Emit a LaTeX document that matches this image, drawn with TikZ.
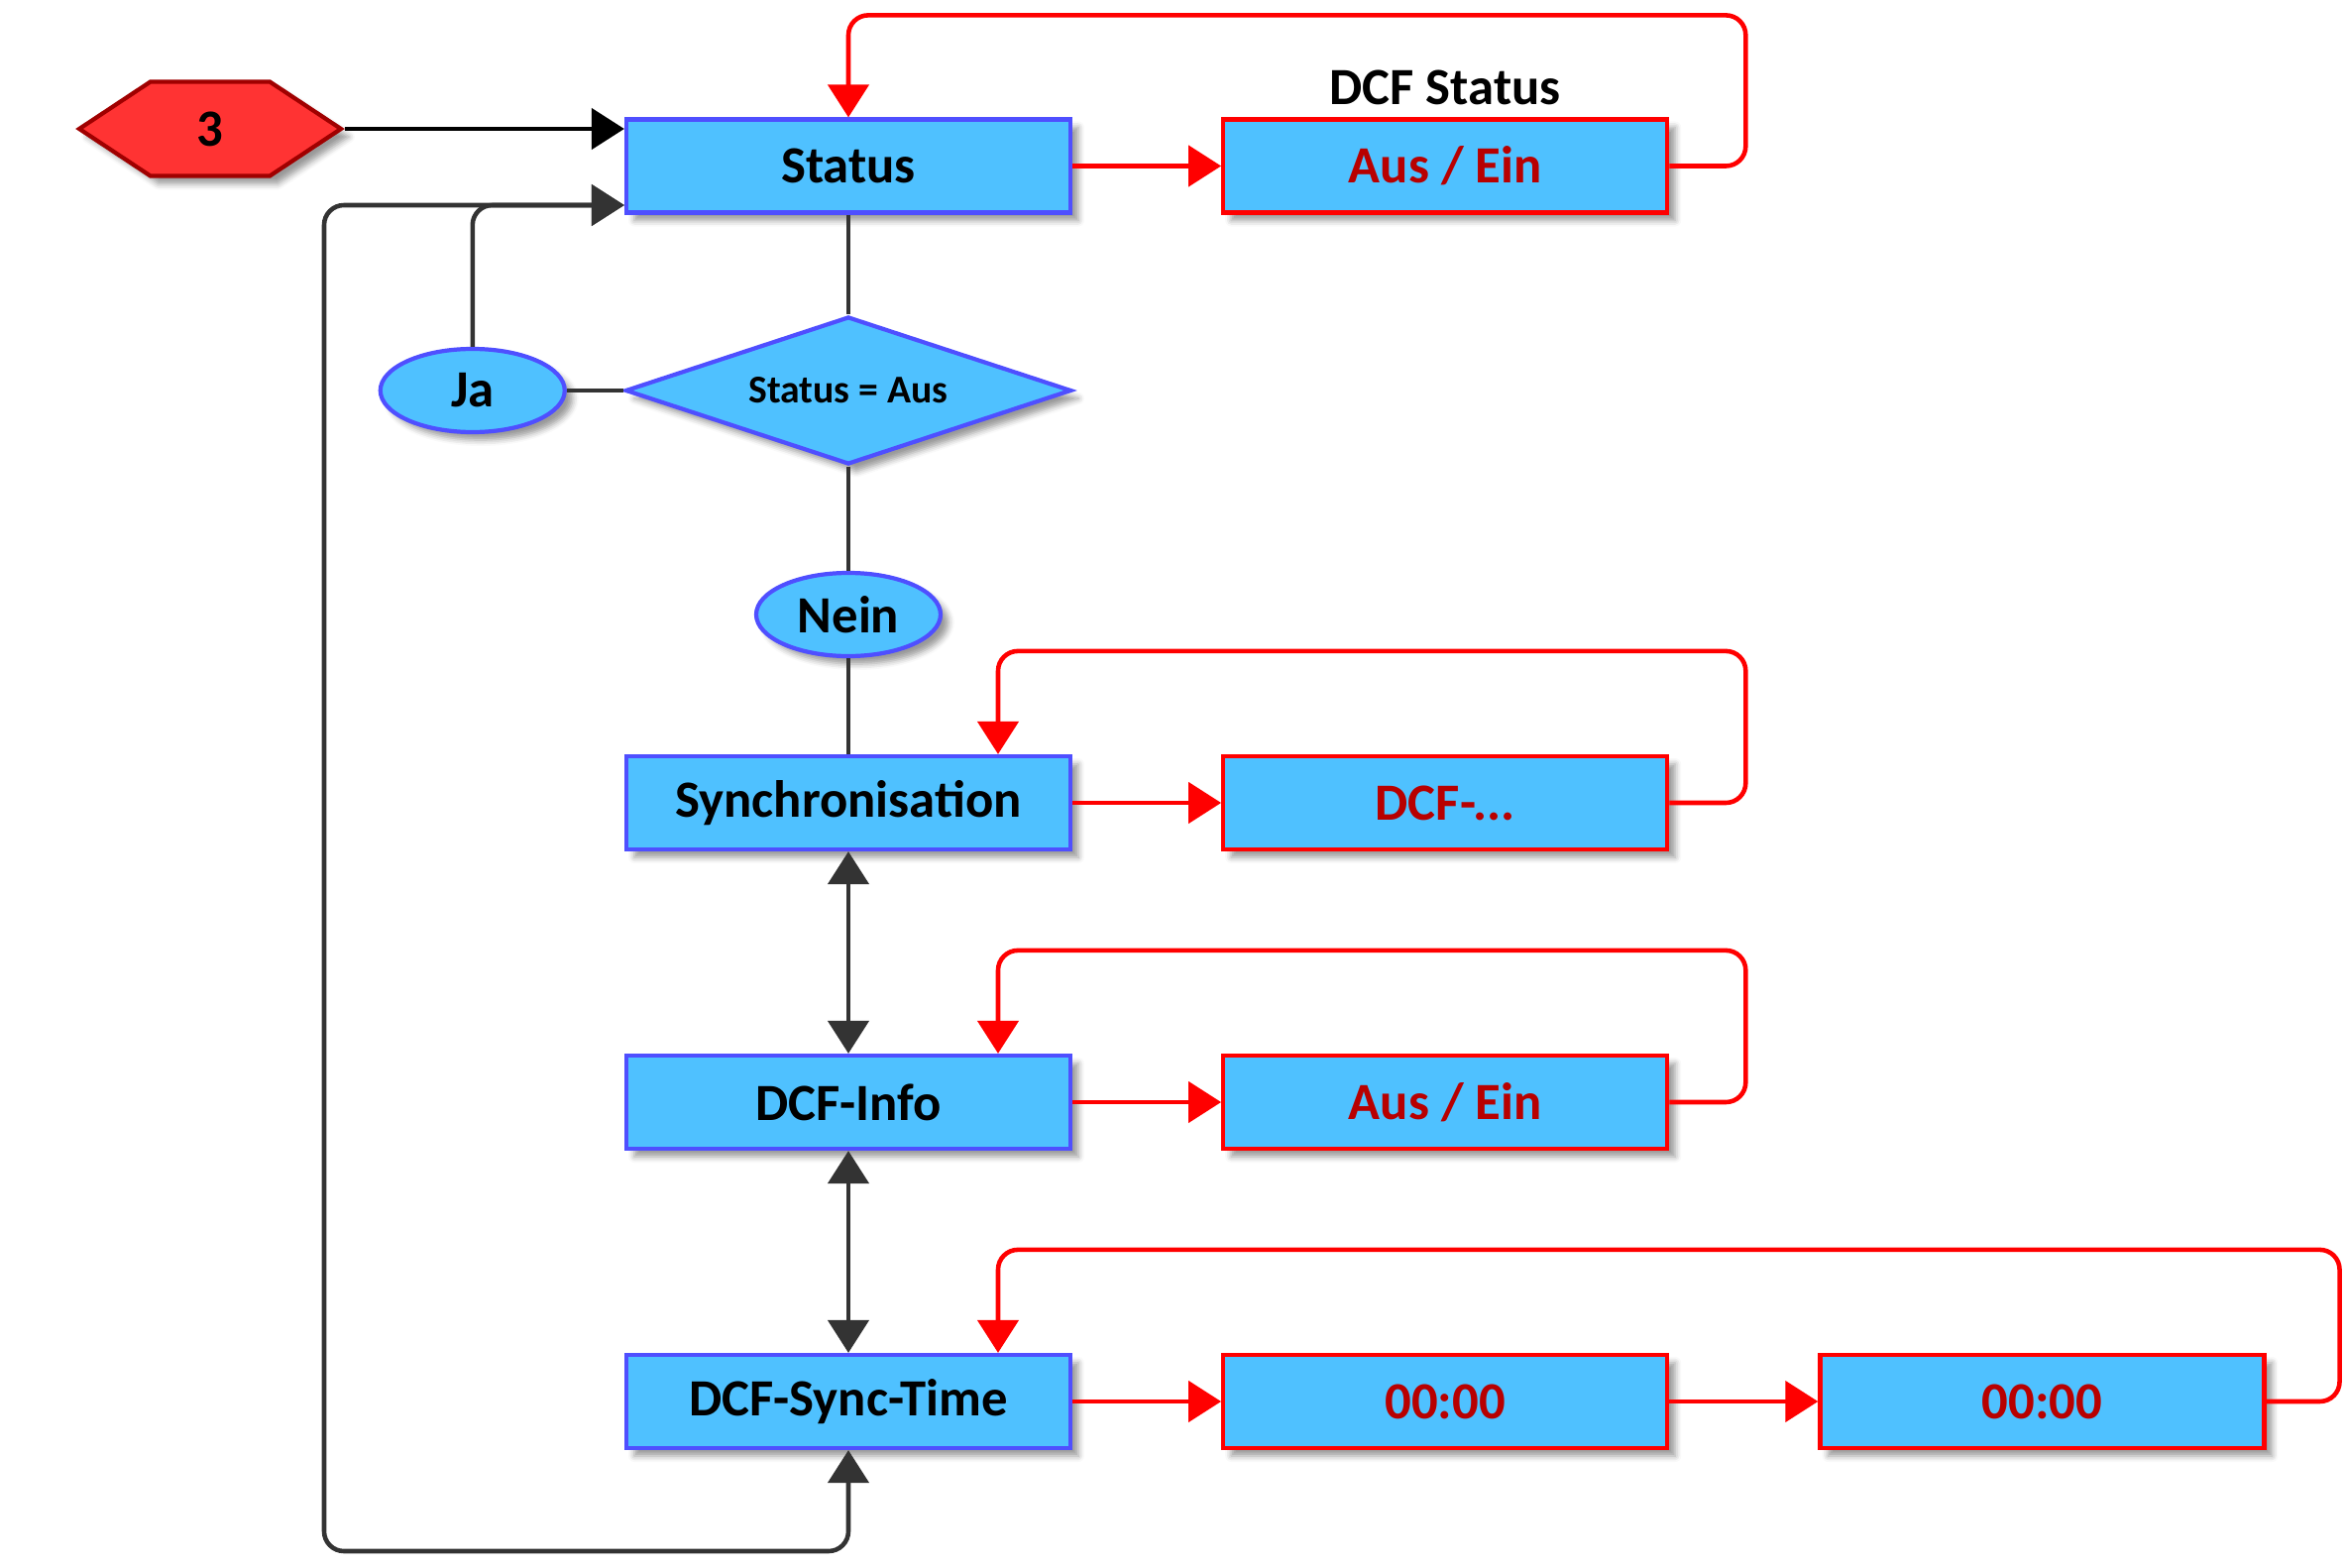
\documentclass[tikz,border=0pt]{standalone}
\usepackage{fontspec}
\setmainfont{Carlito}
\usetikzlibrary{arrows.meta, positioning, calc, shapes.geometric, shapes.symbols, shadows.blur}
\definecolor{DCFBlue}{HTML}{4FC1FF}
\definecolor{DCFEdge}{HTML}{4F4FFF}
\definecolor{DCFRed}{HTML}{FF0000}
\definecolor{DCFText}{HTML}{B80000}
\definecolor{DCFHex}{HTML}{FF3333}
\definecolor{DCFHexEdge}{HTML}{A00000}
\definecolor{DCFLine}{HTML}{333333}

\begin{document}
\begin{tikzpicture}[
    % Schrift und Pfeilspitzen
    font=\fontsize{15}{17}\selectfont\bfseries,
    >={Triangle[length=0.33cm, width=0.41cm]},
    % Stile
    menubox/.style={
        rectangle,
        draw=DCFEdge,
        fill=DCFBlue,
        line width=1.2pt,
        minimum width=4.48cm,
        minimum height=0.94cm,
        inner sep=0pt,
        blur shadow={shadow xshift=0.08cm, shadow yshift=-0.08cm, shadow blur radius=0.06cm}
    },
    valuebox/.style={menubox, draw=DCFRed, text=DCFText},
    answer/.style={
        ellipse,
        draw=DCFEdge,
        fill=DCFBlue,
        line width=1.2pt,
        minimum width=1.86cm,
        minimum height=0.84cm,
        inner sep=0pt,
        blur shadow={shadow xshift=0.08cm, shadow yshift=-0.08cm, shadow blur radius=0.06cm}
    },
    decision/.style={
        diamond,
        aspect=3,
        draw=DCFEdge,
        fill=DCFBlue,
        line width=1.2pt,
        minimum width=4.5cm,
        minimum height=1.49cm,
        inner sep=0pt,
        font=\fontsize{11.3}{13}\selectfont\bfseries,
        blur shadow={shadow xshift=0.08cm, shadow yshift=-0.08cm, shadow blur radius=0.06cm}
    },
    startmark/.style={
        signal,
        signal to=west and east,
        signal pointer angle=67,
        draw=DCFHexEdge,
        fill=DCFHex,
        line width=1.2pt,
        minimum width=2.64cm,
        minimum height=0.95cm,
        inner sep=0pt,
        blur shadow={shadow xshift=0.08cm, shadow yshift=-0.08cm, shadow blur radius=0.06cm}
    },
    grayline/.style={draw=DCFLine, line width=1.3pt},
    redline/.style={draw=DCFRed, line width=1.3pt}
]
    \useasboundingbox (0,0) rectangle (23.66,-15.82);

    % ====== Einstieg und Status ======
    \node[startmark] (start) at (2.12,-1.30) {3};
    \node[menubox] (status) at (8.56,-1.675) {Status};
    \node[valuebox, right=1.50cm of status] (statusval) {Aus / Ein};
    \node[inner sep=0pt, above=0.12cm of statusval] (statuslbl) {DCF Status};

    % ====== Abfrage ======
    \node[decision] (cond) at (8.56,-3.94) {Status = Aus};
    \node[answer, left=0.57cm of cond] (ja) {Ja};
    \node[answer] (nein) at (8.56,-6.20) {Nein};

    % ====== Untermenue ======
    \node[menubox] (sync) at (8.56,-8.10) {Synchronisation};
    \node[valuebox, right=1.50cm of sync] (syncval) {DCF-...};

    \node[menubox] (info) at (8.56,-11.12) {DCF-Info};
    \node[valuebox, right=1.50cm of info] (infoval) {Aus / Ein};

    \node[menubox] (synctime) at (8.56,-14.14) {DCF-Sync-Time};
    \node[valuebox, right=1.50cm of synctime] (hours) {00:00};
    \node[valuebox, right=1.50cm of hours] (minutes) {00:00};

    \coordinate (backcorner) at (3.27,-15.65);

    % ====== Verbindungen (grau) ======
    \draw[->, line width=1.3pt, black] (start.east) -- (start.east -| status.west);
    \draw[grayline] (status.south) -- (cond.north);
    \draw[grayline] (ja.east) -- (cond.west);
    \draw[grayline, ->, rounded corners=0.2cm] (ja.north) |- ([yshift=-0.395cm]status.west);
    \draw[grayline] (cond.south) -- (nein.north);
    \draw[grayline] (nein.south) -- (sync.north);
    \draw[grayline, <->] (sync.south) -- (info.north);
    \draw[grayline, <->] (info.south) -- (synctime.north);
    \draw[grayline, <->, rounded corners=0.2cm] (synctime.south) |- (backcorner) |- ([yshift=-0.395cm]status.west);

    % ====== Einstellwerte (rot) ======
    \draw[redline, ->] (status.east) -- (statusval.west);
    \draw[redline, ->, rounded corners=0.2cm] (statusval.east) -- ++(0.77,0) |- ([yshift=1.03cm]status.north) -- (status.north);

    \draw[redline, ->] (sync.east) -- (syncval.west);
    \draw[redline, ->, rounded corners=0.2cm] (syncval.east) -- ++(0.77,0) |- ([xshift=1.51cm, yshift=1.04cm]sync.north) -- ([xshift=1.51cm]sync.north);

    \draw[redline, ->] (info.east) -- (infoval.west);
    \draw[redline, ->, rounded corners=0.2cm] (infoval.east) -- ++(0.77,0) |- ([xshift=1.51cm, yshift=1.04cm]info.north) -- ([xshift=1.51cm]info.north);

    \draw[redline, ->] (synctime.east) -- (hours.west);
    \draw[redline, ->] (hours.east) -- (minutes.west);
    \draw[redline, ->, rounded corners=0.2cm] (minutes.east) -- ++(0.74,0) |- ([xshift=1.51cm, yshift=1.04cm]synctime.north) -- ([xshift=1.51cm]synctime.north);

\end{tikzpicture}
\end{document}
